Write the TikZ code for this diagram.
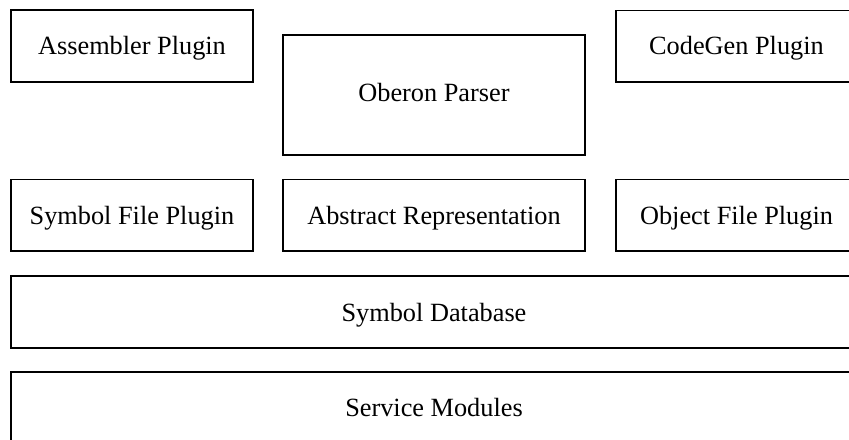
\documentclass[tikz,border=0pt]{standalone}
\usepackage{fontspec}
\setmainfont{Liberation Serif}
\begin{document}
\begin{tikzpicture}[x=1bp, y=-1bp,
  box/.style={draw=black, line width=1.2bp, rectangle, inner sep=0pt, outer sep=0pt},
  lbl/.style={anchor=base, inner sep=0pt, font=\fontsize{26.4}{30}\selectfont}]
  \useasboundingbox (0,0) rectangle (849,440);
  \clip (0,0) rectangle (849,440);

  % top row
  \node[box, minimum width=242bp, minimum height=72bp]   (asm)      at (132,46)     {};
  \node[box, minimum width=302bp, minimum height=120bp]  (parser)   at (434,95)     {};
  \node[box, minimum width=241bp, minimum height=71.5bp] (codegen)  at (736.5,46.25) {};

  % middle row
  \node[box, minimum width=242bp, minimum height=71.5bp] (symfile)  at (132,215.25) {};
  \node[box, minimum width=302bp, minimum height=71.5bp] (abstract) at (434,215.25) {};
  \node[box, minimum width=241bp, minimum height=71.5bp] (objfile)  at (736.5,215.25) {};

  % full-width layers
  \node[box, minimum width=846bp, minimum height=72bp]   (symdb)    at (434,312)    {};
  \node[box, minimum width=846bp, minimum height=71bp]   (service)  at (434,407.5)  {};

  % labels
  \node[lbl] (asmT)      at (132,55)      {Assembler Plugin};
  \node[lbl] (parserT)   at (434,101.7)   {Oberon Parser};
  \node[lbl] (codegenT)  at (736.5,55)    {CodeGen Plugin};
  \node[lbl] (symfileT)  at (132,224.3)   {Symbol File Plugin};
  \node[lbl] (abstractT) at (434,224.3)   {Abstract Representation};
  \node[lbl] (objfileT)  at (736.5,224.3) {Object File Plugin};
  \node[lbl] (symdbT)    at (434,321.7)   {Symbol Database};
  \node[lbl] (serviceT)  at (434,416.7)   {Service Modules};
\end{tikzpicture}
\end{document}
